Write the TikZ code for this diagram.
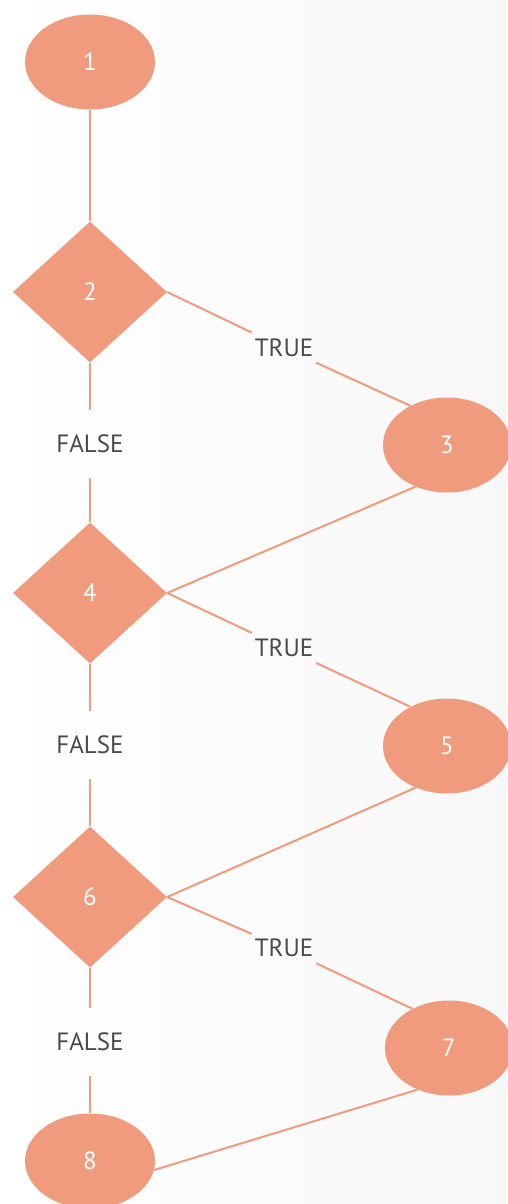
\documentclass[tikz,border=0pt]{standalone}
\usepackage{fontspec}
\setmainfont{PT Sans}
\usetikzlibrary{shapes.geometric}
\definecolor{salmon}{HTML}{F09B7D}
\definecolor{labgray}{HTML}{4A4A4A}
\tikzset{
  x=1pt, y=-1pt,
  oval/.style={ellipse, fill=salmon, draw=none, minimum width=130pt, minimum height=95pt, inner sep=0pt, text=white, font=\fontsize{25}{25}\selectfont},
  decision/.style={diamond, fill=salmon, draw=none, minimum width=154pt, minimum height=141pt, inner sep=0pt, text=white, font=\fontsize{25}{25}\selectfont},
  falselab/.style={rectangle, inner sep=0pt, minimum height=68pt, text=labgray, font=\fontsize{25}{25}\selectfont},
  truelab/.style={rectangle, inner sep=0pt, minimum height=36pt, minimum width=64pt, text=labgray, font=\fontsize{25}{25}\selectfont},
  conn/.style={draw=salmon, line width=2pt}
}
\begin{document}
\begin{tikzpicture}
\shade[left color=white, right color=black!3] (0,0) rectangle (507,1204);
\useasboundingbox (0,0) rectangle (507,1204);

\node[oval] (e1) at (90,62) {1};
\node[decision] (d2) at (90,292) {2};
\node[truelab] (t2) at (284,348) {TRUE};
\node[oval, minimum width=128pt] (e3) at (447,445) {3};
\node[falselab] (f2) at (90,444) {FALSE};
\node[decision] (d4) at (90,593) {4};
\node[truelab] (t4) at (284,648) {TRUE};
\node[oval, minimum width=128pt] (e5) at (447,746) {5};
\node[falselab] (f4) at (90,745) {FALSE};
\node[decision] (d6) at (90,897) {6};
\node[truelab] (t6) at (284,948) {TRUE};
\node[oval, minimum width=128pt] (e7) at (449,1048) {7};
\node[falselab] (f6) at (90,1042) {FALSE};
\node[oval] (e8) at (90,1161) {8};

\draw[conn] (e1.south) -- (d2.north);
\draw[conn] (d2.south) -- (f2.north);
\draw[conn] (f2.south) -- (d4.north);
\draw[conn] (d4.south) -- (f4.north);
\draw[conn] (f4.south) -- (d6.north);
\draw[conn] (d6.south) -- (f6.north);
\draw[conn] (f6.south) -- (e8.north);
\draw[conn] (d2.east) -- (t2);
\draw[conn] (t2) -- (e3.133);
\draw[conn] (e3.233) -- (d4.east);
\draw[conn] (d4.east) -- (t4);
\draw[conn] (t4) -- (e5.133);
\draw[conn] (e5.233) -- (d6.east);
\draw[conn] (d6.east) -- (t6);
\draw[conn] (t6) -- (e7.133);
\draw[conn] (e7.233) -- (e8.-8);
\end{tikzpicture}
\end{document}
